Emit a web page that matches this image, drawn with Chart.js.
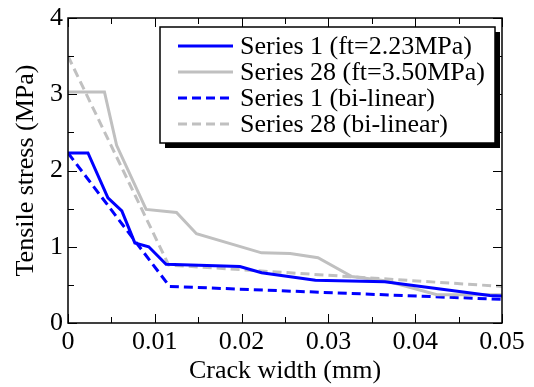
<!DOCTYPE html>
<html>
<head>
<meta charset="utf-8">
<script src="https://cdn.jsdelivr.net/npm/chart.js@4/dist/chart.umd.min.js"></script>
<style>
  html, body { margin: 0; padding: 0; background: #fff; }
  #wrap { width: 534px; height: 387px; }
  #probe { position: absolute; left: -9999px; top: 0; font: 26px "Liberation Serif", "Times New Roman", serif; }
</style>
</head>
<body>
<div id="wrap"><canvas id="c" width="534" height="387"></canvas></div>
<span id="probe">Series 0.05</span>
<script>
// Tension-softening curves: measured vs. bi-linear approximation
const s1Width   = [0, 0.0023, 0.0046, 0.0062, 0.0077, 0.0093, 0.0113, 0.0198, 0.0223, 0.0285, 0.0365, 0.0486, 0.05];
const s1Stress  = [2.23, 2.23, 1.64, 1.47, 1.05, 1.00, 0.77, 0.74, 0.66, 0.56, 0.54, 0.36, 0.355];

const s28Width  = [0, 0.0042, 0.0056, 0.0090, 0.0125, 0.0148, 0.0223, 0.0256, 0.0288, 0.0327, 0.0367, 0.0425, 0.05];
const s28Stress = [3.03, 3.03, 2.33, 1.49, 1.45, 1.17, 0.92, 0.91, 0.855, 0.61, 0.55, 0.37, 0.37];

const s1BiWidth   = [0, 0.0117, 0.05];
const s1BiStress  = [2.23, 0.48, 0.31];

const s28BiWidth  = [0, 0.0116, 0.05];
const s28BiStress = [3.50, 0.76, 0.48];

const seriesLabels = [
  'Series 1 (ft=2.23MPa)',
  'Series 28 (ft=3.50MPa)',
  'Series 1 (bi-linear)',
  'Series 28 (bi-linear)'
];

const xTickValues = [0, 0.01, 0.02, 0.03, 0.04, 0.05];
const xMinorValues = [0.005, 0.015, 0.025, 0.035, 0.045];
const yTickValues = [0, 1, 2, 3, 4];
const yMinorValues = [0.5, 1.5, 2.5, 3.5];

const xTitle = 'Crack width (mm)';
const yTitle = 'Tensile stress (MPa)';

const FONT = '"Liberation Serif", "Times New Roman", Tinos, serif';
const BLUE = '#0000ff';
const GRAY = '#c0c0c0';

const pts = (xs, ys) => xs.map((x, i) => ({ x: x, y: ys[i] }));

// Plot frame and inward tick marks on all four sides
const framePlugin = {
  id: 'frame',
  afterDatasetsDraw(chart) {
    const { ctx, chartArea: a, scales: { x, y } } = chart;
    ctx.save();
    ctx.strokeStyle = '#000';
    ctx.lineWidth = 1;
    const major = 9, minor = 6;
    const vTick = (v, len) => {
      const px = Math.round(x.getPixelForValue(v)) + 0.5;
      ctx.beginPath();
      ctx.moveTo(px, a.bottom); ctx.lineTo(px, a.bottom - len);
      ctx.moveTo(px, a.top); ctx.lineTo(px, a.top + len);
      ctx.stroke();
    };
    const hTick = (v, len) => {
      const py = Math.round(y.getPixelForValue(v)) + 0.5;
      ctx.beginPath();
      ctx.moveTo(a.left, py); ctx.lineTo(a.left + len, py);
      ctx.moveTo(a.right, py); ctx.lineTo(a.right - len, py);
      ctx.stroke();
    };
    xTickValues.forEach(v => vTick(v, major));
    xMinorValues.forEach(v => vTick(v, minor));
    yTickValues.forEach(v => hTick(v, major));
    yMinorValues.forEach(v => hTick(v, minor));
    ctx.lineWidth = 1.5;
    ctx.strokeRect(a.left, a.top, a.right - a.left, a.bottom - a.top);
    ctx.restore();
  }
};

// Boxed legend with a drop shadow, placed inside the plot
const legendPlugin = {
  id: 'boxLegend',
  afterDraw(chart) {
    const { ctx } = chart;
    const ds = chart.data.datasets;
    const left = 160, top = 27, rowH = 26;
    const lineX0 = 178, lineX1 = 233, textX = 240;
    ctx.save();
    ctx.font = '26px ' + FONT;
    let maxW = 0;
    ds.forEach(d => { maxW = Math.max(maxW, ctx.measureText(d.label).width); });
    const right = Math.round(textX + maxW + 10);
    const bottom = top + 116;
    const w = right - left, h = bottom - top;
    ctx.fillStyle = '#000';
    ctx.fillRect(left + 5, top + 5, w, h);
    ctx.fillStyle = '#fff';
    ctx.fillRect(left, top, w, h);
    ctx.strokeStyle = '#000';
    ctx.lineWidth = 1.5;
    ctx.strokeRect(left, top, w, h);
    ds.forEach((d, i) => {
      const cy = top + 19 + i * rowH;
      ctx.beginPath();
      ctx.strokeStyle = d.borderColor;
      ctx.lineWidth = d.borderWidth;
      ctx.setLineDash(d.borderDash || []);
      ctx.moveTo(lineX0, cy);
      ctx.lineTo(lineX1, cy);
      ctx.stroke();
      ctx.setLineDash([]);
      ctx.fillStyle = '#000';
      ctx.textAlign = 'left';
      ctx.textBaseline = 'middle';
      ctx.fillText(d.label, textX, cy + 1);
    });
    ctx.restore();
  }
};

const dash = [9, 5];

function draw() {
  new Chart(document.getElementById('c'), {
    type: 'line',
    data: {
      datasets: [
        { label: seriesLabels[0], data: pts(s1Width, s1Stress), borderColor: BLUE, borderWidth: 3 },
        { label: seriesLabels[1], data: pts(s28Width, s28Stress), borderColor: GRAY, borderWidth: 3 },
        { label: seriesLabels[2], data: pts(s1BiWidth, s1BiStress), borderColor: BLUE, borderWidth: 3, borderDash: dash },
        { label: seriesLabels[3], data: pts(s28BiWidth, s28BiStress), borderColor: GRAY, borderWidth: 3, borderDash: dash }
      ]
    },
    options: {
      responsive: false,
      devicePixelRatio: 1,
      animation: false,
      elements: {
        point: { radius: 0, hoverRadius: 0 },
        line: { tension: 0, fill: false, borderCapStyle: 'butt', borderJoinStyle: 'miter' }
      },
      layout: { padding: { left: 0, top: 15, right: 32, bottom: 0 } },
      plugins: {
        legend: { display: false },
        tooltip: { enabled: false }
      },
      scales: {
        x: {
          type: 'linear',
          min: 0,
          max: 0.05,
          afterBuildTicks: s => { s.ticks = xTickValues.map(v => ({ value: v })); },
          afterFit: s => { s.height = 64; },
          grid: { display: false, drawTicks: false },
          border: { display: false },
          ticks: {
            color: '#000',
            padding: 6,
            maxRotation: 0,
            autoSkip: false,
            font: { family: FONT, size: 26, lineHeight: 1 },
            callback: v => String(Number(Number(v).toFixed(3)))
          },
          title: {
            display: true,
            text: xTitle,
            color: '#000',
            padding: 0,
            font: { family: FONT, size: 26, lineHeight: 1.2 }
          }
        },
        y: {
          type: 'linear',
          min: 0,
          max: 4,
          afterBuildTicks: s => { s.ticks = yTickValues.map(v => ({ value: v })); },
          afterFit: s => { s.width = 68; },
          grid: { display: false, drawTicks: false },
          border: { display: false },
          ticks: {
            color: '#000',
            padding: 5,
            autoSkip: false,
            font: { family: FONT, size: 26, lineHeight: 1 },
            callback: v => String(v)
          },
          title: {
            display: true,
            text: yTitle,
            color: '#000',
            padding: { top: 11, bottom: 0 },
            font: { family: FONT, size: 26, lineHeight: 1.2 }
          }
        }
      }
    },
    plugins: [framePlugin, legendPlugin]
  });
}

if (document.fonts && document.fonts.load) {
  document.fonts.load('26px "Liberation Serif"').then(draw, draw);
} else {
  draw();
}
</script>
</body>
</html>
